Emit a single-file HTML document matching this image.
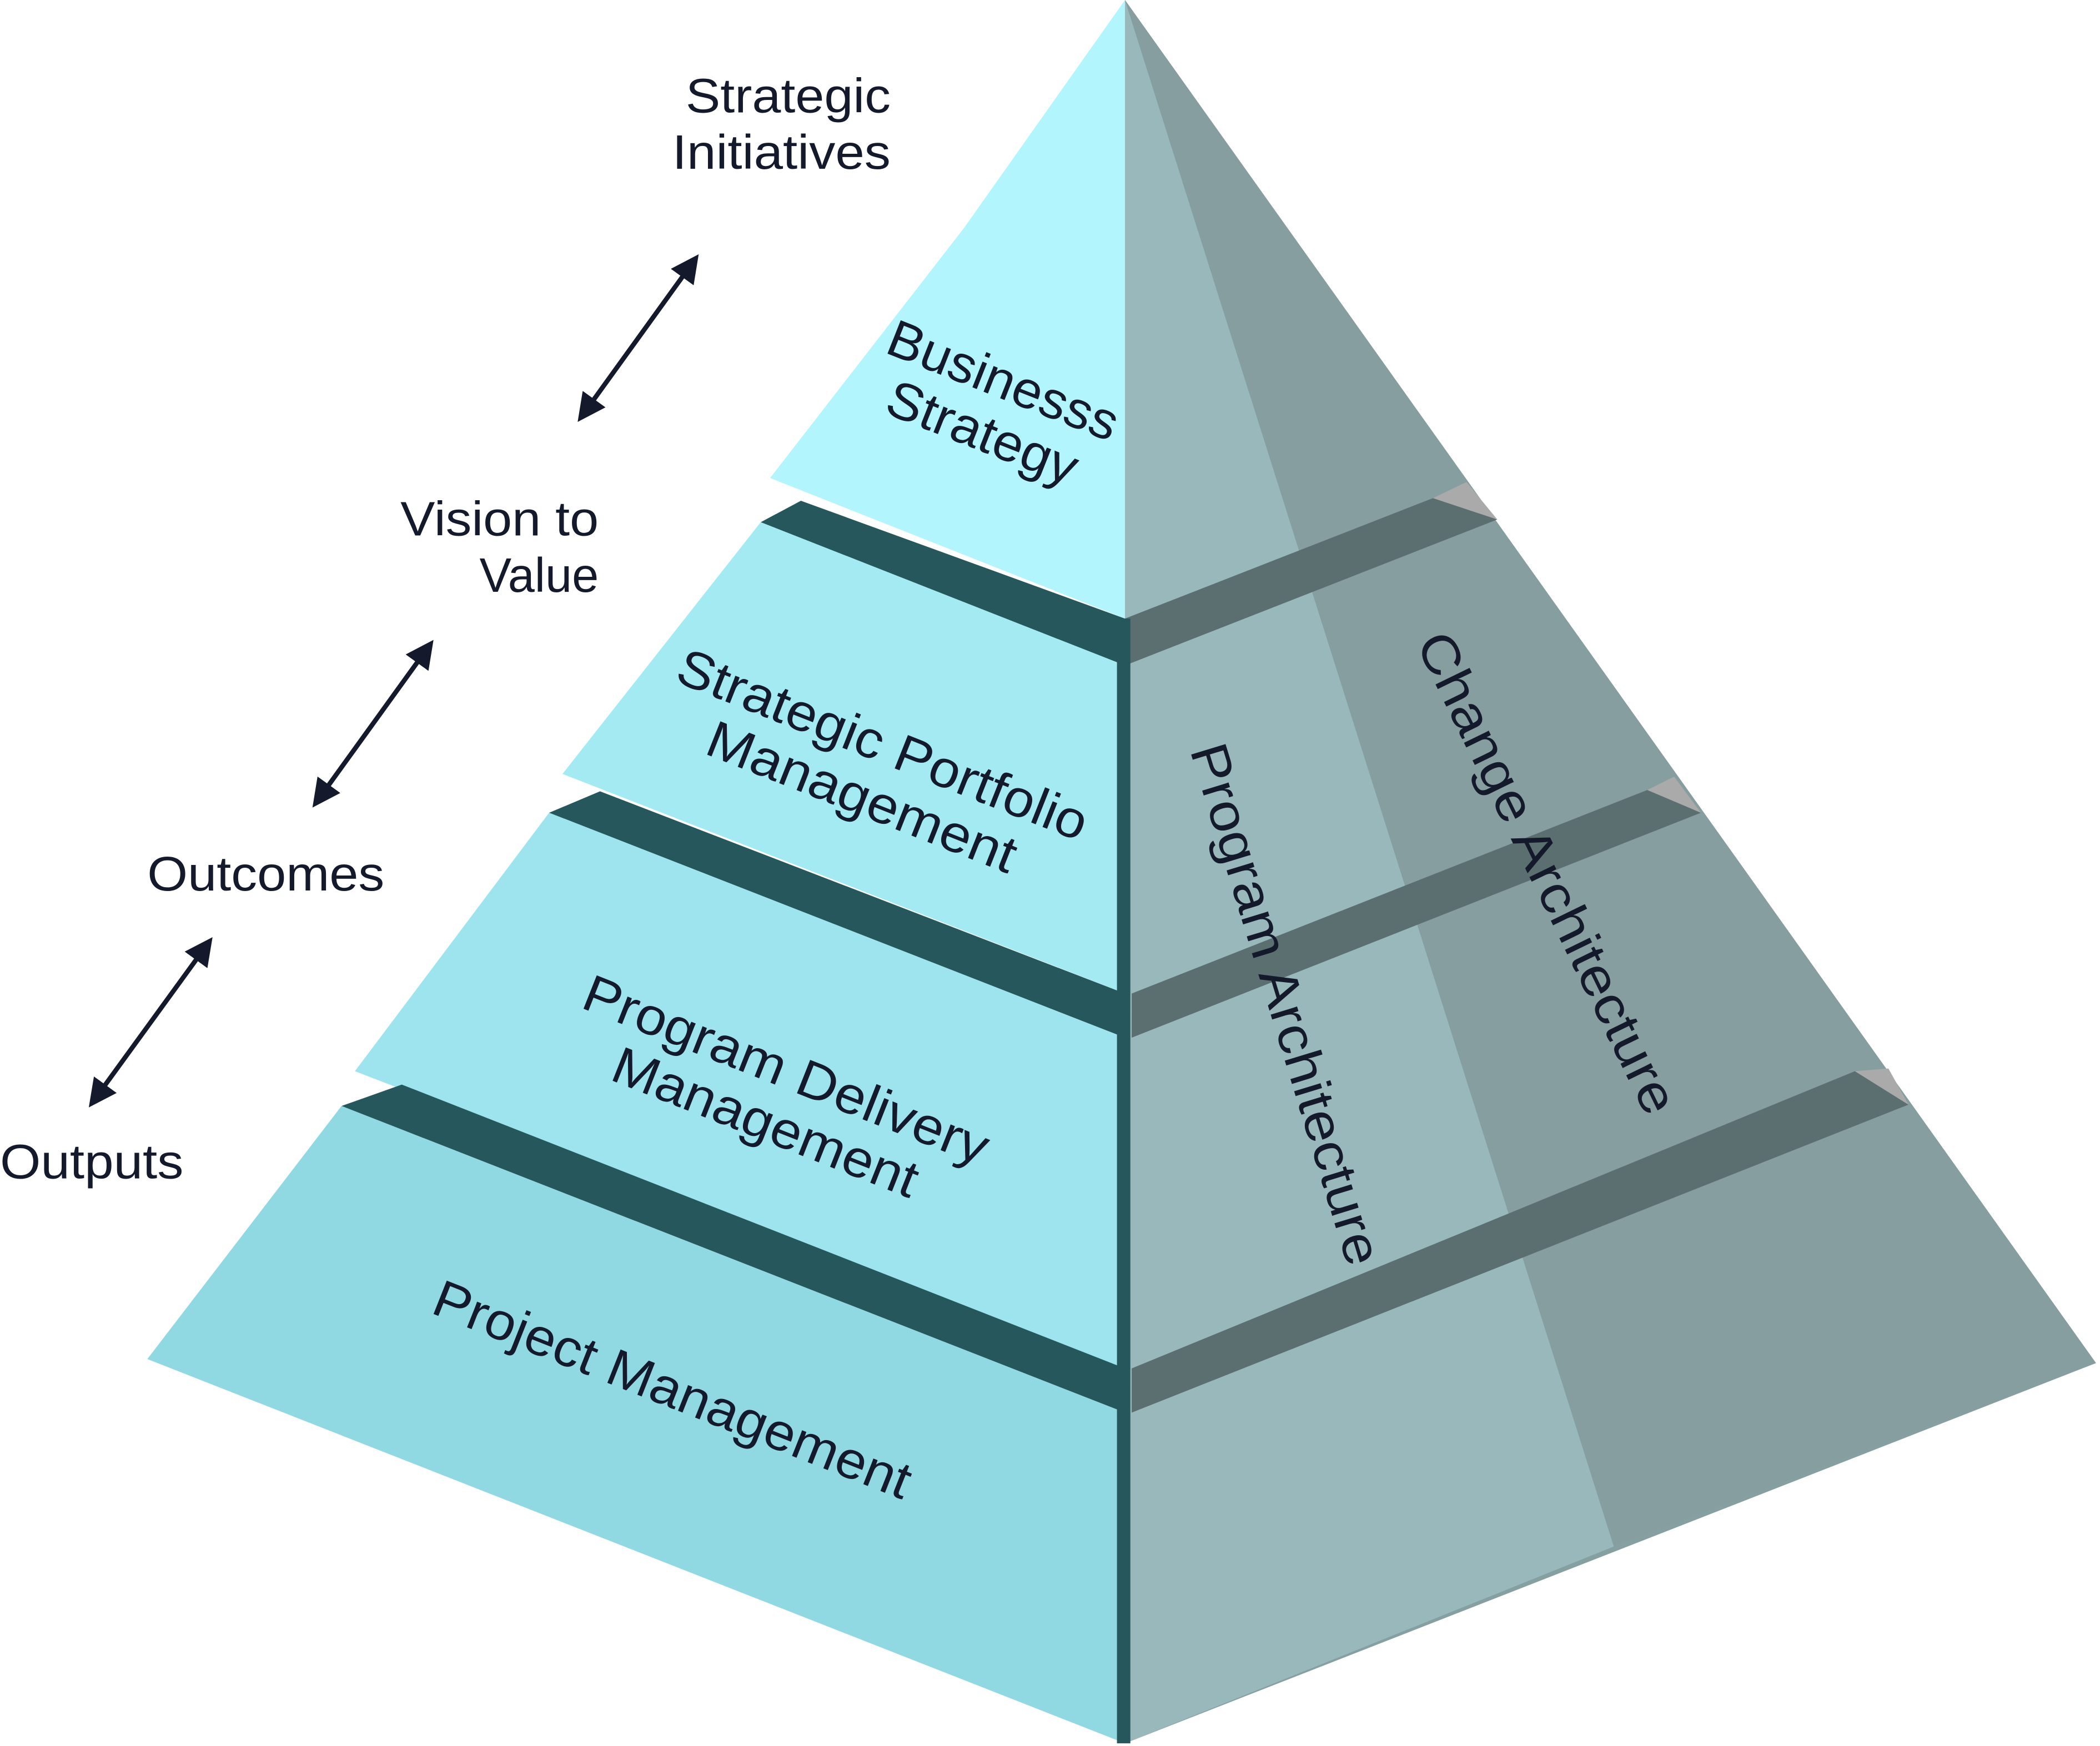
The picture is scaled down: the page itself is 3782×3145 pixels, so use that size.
<!DOCTYPE html>
<html><head><style>html,body{margin:0;padding:0;background:#fff}svg{display:block}</style></head><body>
<svg width="3782" height="3145" viewBox="0 0 1568 1304" preserveAspectRatio="none" xmlns="http://www.w3.org/2000/svg" font-family="Liberation Sans, sans-serif">
<defs><marker id="ah" viewBox="0 0 10 10" refX="7" refY="5" markerWidth="6" markerHeight="6" orient="auto-start-reverse"><path d="M0,0L10,5L0,10z" fill="#141a2b"/></marker></defs>
<polygon points="840,0 1565,1018 840,1302" fill="#86a0a2"/>
<polygon points="840,0 1205,1155 840,1302" fill="#99b8bc"/>
<polygon points="840,0 1205,1155 1565,1018" fill="#869ea0"/>
<polygon points="840,462 1070,372 1118,388 840,497" fill="#5b6e70"/>
<polygon points="845,742 1230,590 1270,607 845,775" fill="#5b6e70"/>
<polygon points="845,1022 1385,800 1425,825 845,1055" fill="#5b6e70"/>
<polygon points="1070,372 1118,388 1095,360" fill="#aaaaaa"/>
<polygon points="1230,590 1270,607 1250,580" fill="#aaaaaa"/>
<polygon points="1385,800 1425,825 1410,798" fill="#aaaaaa"/>
<polygon points="840,0 720,170 575,357 840,462" fill="#b2f5fd"/>
<polygon points="598,374 840,462 840,497 568,390" fill="#25575d"/>
<polygon points="568,390 840,497 840,742 420,578" fill="#a3eaf3"/>
<polygon points="448,591 840,742 840,775 410,607" fill="#25575d"/>
<polygon points="410,607 840,775 840,1022 265,800" fill="#9ee4ee"/>
<polygon points="300,810 840,1022 840,1055 255,826" fill="#25575d"/>
<polygon points="255,826 840,1055 840,1302 110,1015" fill="#90d8e2"/>
<rect x="834" y="462" width="10" height="840" fill="#25575d"/>
<g fill="#141a2b" font-size="36" text-anchor="end" lengthAdjust="spacingAndGlyphs">
<text x="665" y="84" textLength="153" lengthAdjust="spacingAndGlyphs">Strategic</text><text x="665" y="126" textLength="163" lengthAdjust="spacingAndGlyphs">Initiatives</text>
<text x="447" y="400" textLength="148" lengthAdjust="spacingAndGlyphs">Vision to</text><text x="447" y="442" textLength="89" lengthAdjust="spacingAndGlyphs">Value</text>
<text x="287" y="665" textLength="177" lengthAdjust="spacingAndGlyphs">Outcomes</text>
<text x="137" y="880" textLength="137" lengthAdjust="spacingAndGlyphs">Outputs</text>
</g>
<g stroke="#141a2b" stroke-width="3.5" marker-start="url(#ah)" marker-end="url(#ah)">
<line x1="435" y1="310" x2="518" y2="195"/>
<line x1="237" y1="598" x2="320" y2="483"/>
<line x1="70" y1="822" x2="155" y2="705"/>
</g>
<g fill="#141a2b" font-size="39" text-anchor="middle">
<g transform="translate(742,302) rotate(21.6)"><text y="-6" textLength="182" lengthAdjust="spacingAndGlyphs">Businesss</text><text y="36" textLength="150" lengthAdjust="spacingAndGlyphs">Strategy</text></g>
<g transform="translate(652,574) rotate(21.6)"><text y="-6" textLength="326" lengthAdjust="spacingAndGlyphs">Strategic Portfolio</text><text y="36" textLength="245" lengthAdjust="spacingAndGlyphs">Management</text></g>
<g transform="translate(580,817) rotate(21.6)"><text y="-6" textLength="322" lengthAdjust="spacingAndGlyphs">Program Delivery</text><text y="36" textLength="242" lengthAdjust="spacingAndGlyphs">Management</text></g>
<g transform="translate(502,1038) rotate(21.6)"><text y="13" textLength="380" lengthAdjust="spacingAndGlyphs">Project Management</text></g>
<g transform="translate(960,750) rotate(73)"><text y="13" textLength="405" lengthAdjust="spacingAndGlyphs">Program Architecture</text></g>
<g transform="translate(1155,652) rotate(64)"><text y="13" textLength="395" lengthAdjust="spacingAndGlyphs">Change Architecture</text></g>
</g>
</svg>
</body></html>
